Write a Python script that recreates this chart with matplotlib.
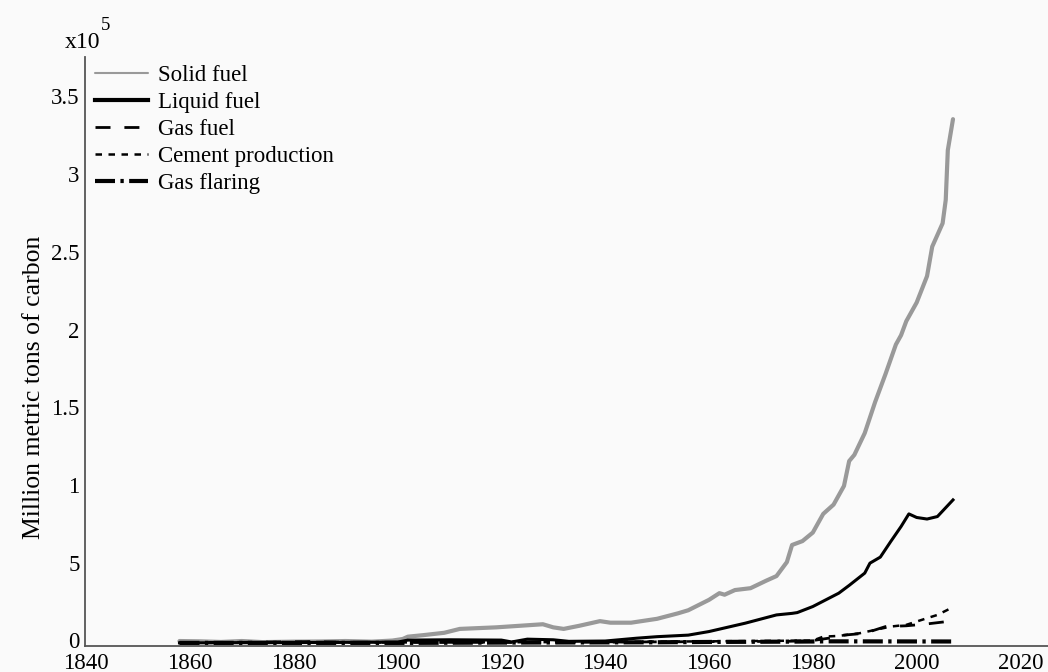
import matplotlib
matplotlib.use("Agg")
import matplotlib.pyplot as plt

# ---------------- data (values in units of 1e5 million metric tons of carbon) -------------
solid_years = [1858, 1862, 1866, 1870, 1874, 1880, 1885, 1890, 1895, 1899, 1901, 1902,
               1905, 1909, 1912, 1919, 1928, 1930, 1932, 1935, 1939, 1941, 1945, 1950,
               1954, 1956, 1960, 1962, 1963, 1965, 1968, 1971, 1973, 1975, 1976, 1978,
               1980, 1982, 1984, 1986, 1987, 1988, 1990, 1992, 1994, 1996, 1997, 1998,
               2000, 2002, 2003, 2005, 2005.6, 2006, 2007]
solid_vals = [0.012, 0.010, 0.006, 0.012, 0.005, 0.008, 0.009, 0.012, 0.008, 0.015, 0.025, 0.040,
              0.050, 0.065, 0.090, 0.100, 0.120, 0.100, 0.090, 0.110, 0.140, 0.130, 0.130, 0.155,
              0.190, 0.210, 0.277, 0.320, 0.310, 0.340, 0.352, 0.400, 0.430, 0.520, 0.630, 0.655,
              0.710, 0.830, 0.890, 1.010, 1.170, 1.210, 1.350, 1.550, 1.730, 1.920, 1.980, 2.070,
              2.190, 2.360, 2.550, 2.700, 2.850, 3.170, 3.370]

liquid_years = [1858, 1880, 1900, 1902, 1910, 1920, 1922, 1925, 1930, 1933, 1940, 1946,
                1950, 1956, 1960, 1967, 1973, 1976, 1977, 1980, 1985, 1987, 1990, 1991,
                1993, 1995, 1997, 1998.5, 2000, 2002, 2004, 2007]
liquid_vals = [0.000, 0.002, 0.005, 0.018, 0.020, 0.018, 0.006, 0.024, 0.020, 0.010, 0.012, 0.030,
               0.040, 0.050, 0.073, 0.127, 0.180, 0.190, 0.195, 0.234, 0.320, 0.370, 0.449, 0.513,
               0.552, 0.652, 0.749, 0.830, 0.807, 0.797, 0.813, 0.920]

gas_years = [1858, 1870, 1883, 1890, 1900, 1920, 1940, 1960, 1975, 1980, 1983, 1986,
             1990, 1994, 1998, 2002, 2007]
gas_vals = [0.002, 0.004, 0.008, 0.004, 0.004, 0.003, 0.005, 0.008, 0.010, 0.015, 0.030, 0.050,
            0.062, 0.105, 0.110, 0.122, 0.142]

cement_years = [1858, 1900, 1920, 1940, 1960, 1980, 1982, 1985, 1989, 1995, 1998, 2002, 2004, 2007]
cement_vals = [0.000, 0.003, 0.004, 0.006, 0.010, 0.015, 0.040, 0.045, 0.062, 0.105, 0.116,
               0.159, 0.180, 0.230]

flaring_years = [1858, 1900, 1920, 1950, 1960, 1975, 1980, 1983, 2007]
flaring_vals = [0.000, 0.000, 0.002, 0.004, 0.006, 0.008, 0.009, 0.010, 0.009]

series_labels = ["Solid fuel", "Liquid fuel", "Gas fuel", "Cement production", "Gas flaring"]

x_ticks = [1840, 1860, 1880, 1900, 1920, 1940, 1960, 1980, 2000, 2020]
y_ticks = [0, 0.5, 1, 1.5, 2, 2.5, 3, 3.5]
y_tick_labels = ["0", "5", "1", "1.5", "2", "2.5", "3", "3.5"]

# ---------------- figure ----------------
plt.rcParams["font.family"] = ["Liberation Serif", "DejaVu Serif"]
bg = "#fafafa"
fig = plt.figure(figsize=(10.48, 6.72), dpi=100, facecolor=bg)
ax = fig.add_axes([85 / 1048, 26 / 672, 1 - 85 / 1048, (646 - 57) / 672])
ax.set_facecolor(bg)

ax.plot(solid_years, solid_vals, color="#999999", lw=3.0, label=series_labels[0],
        solid_capstyle="round")
ax.plot(liquid_years, liquid_vals, color="black", lw=2.2, label=series_labels[1])
ax.plot(gas_years, gas_vals, color="black", lw=2.0, dashes=(5.4, 5.0), label=series_labels[2])
ax.plot(cement_years, cement_vals, color="black", lw=1.8, dashes=(2.6, 2.6), label=series_labels[3])
ax.plot(flaring_years, flaring_vals, color="black", lw=3.0, dashes=(4.8, 1.3, 0.8, 1.3),
        label=series_labels[4])

ax.set_xlim(1839.8, 2025.3)
ax.set_ylim(-0.02, 3.77)

for s in ["top", "right"]:
    ax.spines[s].set_visible(False)
for s in ["left", "bottom"]:
    ax.spines[s].set_color("#555555")
    ax.spines[s].set_linewidth(1.3)

ax.set_xticks(x_ticks)
ax.set_xticklabels([str(t) for t in x_ticks])
ax.set_yticks(y_ticks)
ax.set_yticklabels(y_tick_labels, va="center")
ax.tick_params(axis="both", length=0, labelsize=16.5, colors="black")
ax.tick_params(axis="x", pad=5)
ax.tick_params(axis="y", pad=4)

ax.set_ylabel("Million metric tons of carbon", fontsize=18.5)
ax.yaxis.set_label_coords(-0.0415, 0.44)

# multiplier
fig.text(65 / 1048, 1 - 42 / 672, "x10", fontsize=17, va="center", ha="left")
fig.text(101 / 1048, 1 - 25 / 672, "5", fontsize=13.5, va="center", ha="left")

leg = ax.legend(loc="upper left", bbox_to_anchor=(95 / 1048, 1 - 65 / 672),
                bbox_transform=fig.transFigure, frameon=False, fontsize=16.5,
                handlelength=2.3, handletextpad=0.45, labelspacing=0.26,
                borderpad=0, borderaxespad=0)
leg.get_lines()[0].set_linewidth(1.5)
leg.get_lines()[1].set_linewidth(3.0)

fig.savefig("out.png", dpi=100, facecolor=bg)
